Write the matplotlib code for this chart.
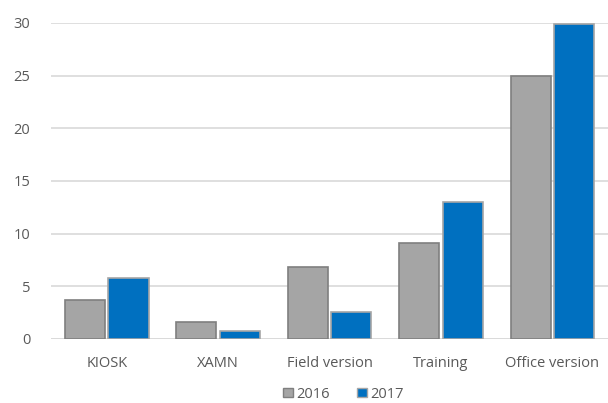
import numpy as np
import matplotlib
matplotlib.use("Agg")
import matplotlib.pyplot as plt
from matplotlib.patches import Patch

# Usage counts per product
categories = ["KIOSK", "XAMN", "Field version", "Training", "Office version"]
values_2016 = [3.7, 1.65, 6.85, 9.15, 25.0]
values_2017 = [5.8, 0.75, 2.6, 13.0, 29.9]
yticks = [0, 5, 10, 15, 20, 25, 30]

plt.rcParams["font.family"] = ["Open Sans", "DejaVu Sans"]
text_color = "#595959"

fig = plt.figure(figsize=(6.08, 4.03), dpi=100)
ax = fig.add_axes([0.084, 0.159, 0.916, 0.784])

x = np.arange(len(categories))
w = 0.36
ax.bar(x - 0.195, values_2016, w, color="#a5a5a5", edgecolor="#7f7f7f", linewidth=1.2, zorder=3)
ax.bar(x + 0.195, values_2017, w, color="#0070c0", edgecolor="#a6a6a6", linewidth=1.2, zorder=3)

ax.set_xlim(-0.5, len(categories) - 0.5)
ax.set_ylim(0, 30)
ax.set_yticks(yticks)
ax.set_xticks(x)
ax.set_xticklabels(categories)
ax.grid(axis="y", color="#d9d9d9", linewidth=1.2, zorder=0)
for s in ax.spines.values():
    s.set_visible(False)
ax.axhline(0, color="#d9d9d9", linewidth=1.2, zorder=2)
ax.tick_params(length=0, colors=text_color, labelsize=10.5)
ax.tick_params(axis="y", pad=15)
ax.tick_params(axis="x", pad=12)

handles = [Patch(facecolor="#a5a5a5", edgecolor="#7f7f7f", label="2016"),
           Patch(facecolor="#0070c0", edgecolor="#a6a6a6", label="2017")]
leg = fig.legend(handles=handles, loc="center", bbox_to_anchor=(0.565, 0.022), ncol=2,
                 frameon=False, fontsize=10.5, handlelength=0.65, handleheight=0.65,
                 handletextpad=0.25, columnspacing=1.9)
for t in leg.get_texts():
    t.set_color(text_color)

fig.savefig("out.png", dpi=100)
